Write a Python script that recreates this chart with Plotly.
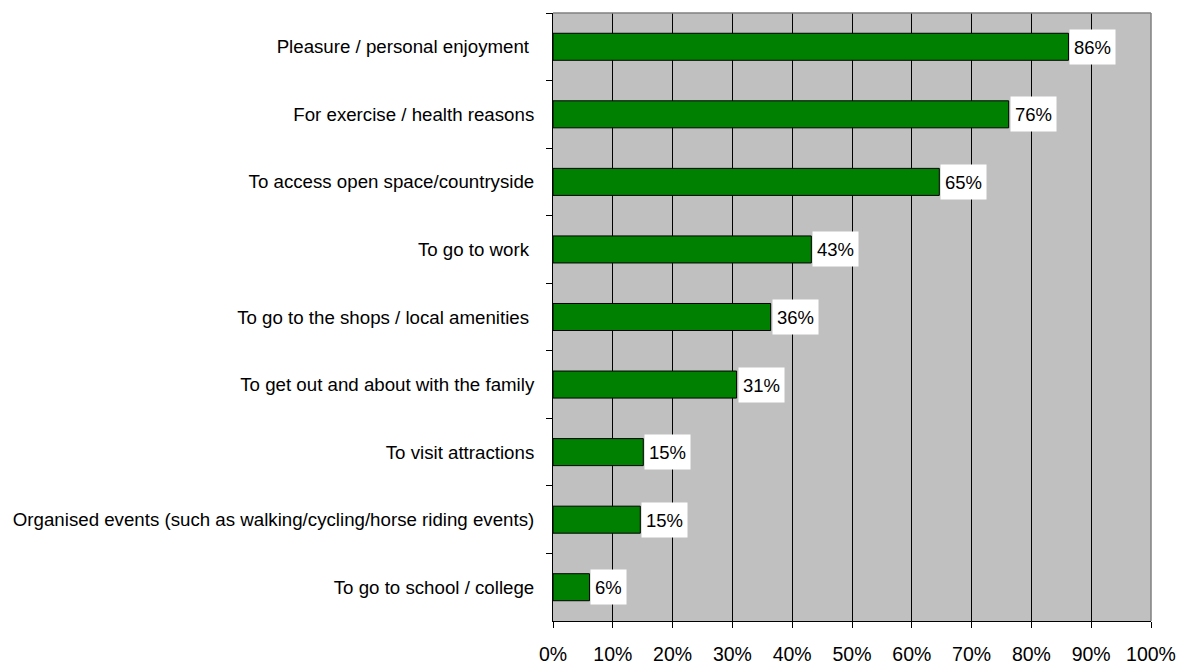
import plotly.graph_objects as go

categories = [
    "Pleasure / personal enjoyment ",
    "For exercise / health reasons",
    "To access open space/countryside",
    "To go to work ",
    "To go to the shops / local amenities ",
    "To get out and about with the family",
    "To visit attractions",
    "Organised events (such as walking/cycling/horse riding events)",
    "To go to school / college",
]
values = [86.2, 76.2, 64.6, 43.2, 36.4, 30.7, 15.1, 14.6, 6.1]
x_tickvals = [0, 10, 20, 30, 40, 50, 60, 70, 80, 90, 100]
x_ticktext = [f"{v}%" for v in x_tickvals]

FONT = "Liberation Sans, Arial, sans-serif"

fig = go.Figure()
fig.add_trace(go.Bar(
    x=values, y=categories, orientation="h",
    marker=dict(color="#008000", line=dict(color="#000000", width=1)),
    width=0.4, hoverinfo="skip",
))

for c, v in zip(categories, values):
    fig.add_annotation(
        x=v, y=c, xref="x", yref="y", text=f"{round(v)}%",
        showarrow=False, xanchor="left", yanchor="middle", xshift=1,
        bgcolor="#FFFFFF", borderpad=4, height=26,
        font=dict(family=FONT, size=18.5, color="#000000"),
    )

fig.update_layout(
    width=1187, height=666,
    margin=dict(l=541, r=44, t=5, b=53),
    paper_bgcolor="#FFFFFF", plot_bgcolor="#C0C0C0",
    showlegend=False,
    font=dict(family=FONT, size=18.7, color="#000000"),
    xaxis=dict(
        range=[0, 100], tickvals=x_tickvals, ticktext=x_ticktext,
        showgrid=True, gridcolor="#000000", gridwidth=1,
        showline=True, linecolor="#000000", linewidth=1,
        ticks="outside", ticklen=6, tickcolor="#000000",
        ticklabelstandoff=10, zeroline=False,
        tickfont=dict(family=FONT, size=19.5),
        fixedrange=True,
    ),
    yaxis=dict(
        type="category", categoryorder="array", categoryarray=categories,
        autorange="reversed", tickson="boundaries",
        showgrid=False, showline=True, linecolor="#000000", linewidth=1,
        ticks="outside", ticklen=6, tickcolor="#000000",
        ticklabelstandoff=14,
        tickfont=dict(family=FONT, size=18.7),
        fixedrange=True,
    ),
    shapes=[
        dict(type="line", xref="paper", yref="paper", x0=0, x1=1, y0=1, y1=1,
             line=dict(color="#808080", width=1.5)),
        dict(type="line", xref="paper", yref="paper", x0=1, x1=1, y0=0, y1=1,
             line=dict(color="#808080", width=1.5)),
    ],
)

fig.write_html("out.html")
